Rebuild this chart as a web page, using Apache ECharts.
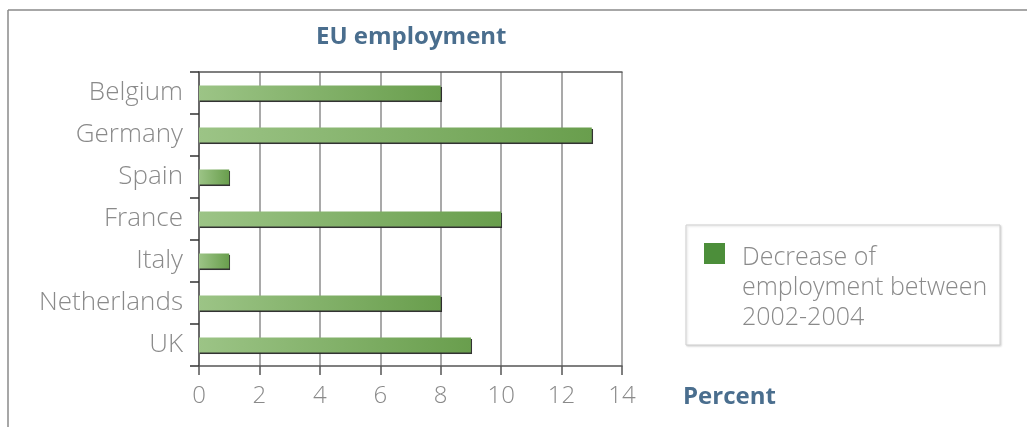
<!DOCTYPE html>
<html>
<head>
<meta charset="utf-8">
<style>
  html, body { margin: 0; padding: 0; background: #fff; }
  #chart { width: 1027px; height: 427px; }
</style>
<script src="https://cdn.jsdelivr.net/npm/echarts@6/dist/echarts.min.js"></script>
</head>
<body>
<div id="chart"></div>
<script>
// Employment decrease by country, 2002-2004 (percent)
const countries = ['Belgium', 'Germany', 'Spain', 'France', 'Italy', 'Netherlands', 'UK'];
const decrease = [8, 13, 1, 10, 1, 8, 9];
const xTicks = [0, 2, 4, 6, 8, 10, 12, 14];
const seriesName = 'Decrease of\nemployment between\n2002-2004';

const TITLE_BLUE = '#4a6e8e';
const LABEL_GREY = '#8a8a8a';
const LINE_DARK = '#555555';
const GRID_GREY = '#8c8c8c';
const FONT = '"Open Sans", Roboto, "DejaVu Sans", sans-serif';

const chart = echarts.init(document.getElementById('chart'), null, { renderer: 'canvas' });

chart.setOption({
  animation: false,
  backgroundColor: '#ffffff',
  title: {
    text: 'EU employment',
    left: 316,
    top: 25,
    padding: 0,
    textStyle: { color: TITLE_BLUE, fontFamily: FONT, fontWeight: 'bold', fontSize: 24 }
  },
  grid: { left: 199, right: 405, top: 72, bottom: 61, containLabel: false },
  legend: {
    left: 704,
    top: 179,
    padding: 0,
    itemWidth: 21,
    itemHeight: 21,
    itemGap: 0,
    icon: 'rect',
    selectedMode: false,
    data: [{ name: seriesName, itemStyle: { color: '#4c8e3a' } }],
    // two blank spacer rows above the text keep the swatch level with its first line
    formatter: name => '{s| }\n{s| }\n' + name.split('\n').map(l => '{t|' + l + '}').join('\n'),
    textStyle: {
      color: LABEL_GREY, fontFamily: FONT, fontWeight: 300, fontSize: 25,
      padding: [0, 0, 0, 12],
      rich: {
        s: { fontSize: 25, lineHeight: 34, fontFamily: FONT },
        t: { color: LABEL_GREY, fontSize: 25, lineHeight: 30, fontFamily: FONT, fontWeight: 300 }
      }
    }
  },
  xAxis: [{
    type: 'value',
    min: xTicks[0],
    max: xTicks[xTicks.length - 1],
    interval: 2,
    position: 'bottom',
    name: 'Percent',
    nameLocation: 'end',
    nameGap: 61,
    nameTextStyle: {
      color: TITLE_BLUE, fontFamily: FONT, fontWeight: 'bold', fontSize: 24,
      verticalAlign: 'top', align: 'left', padding: [19, 0, 0, 0]
    },
    axisLine: { show: true, lineStyle: { color: LINE_DARK, width: 1.5 } },
    axisTick: { show: true, length: 9, inside: false, lineStyle: { color: LINE_DARK, width: 1.5 } },
    axisLabel: {
      color: LABEL_GREY, fontFamily: FONT, fontWeight: 300, fontSize: 24, margin: 18,
      formatter: v => String(v)
    },
    splitLine: { show: true, lineStyle: { color: GRID_GREY, width: 1.5 } }
  }, {
    type: 'value',
    min: xTicks[0],
    max: xTicks[xTicks.length - 1],
    interval: 2,
    position: 'top',
    axisLine: { show: true, lineStyle: { color: LINE_DARK, width: 1.5 } },
    axisTick: { show: false },
    axisLabel: { show: false },
    splitLine: { show: false }
  }],
  yAxis: {
    type: 'category',
    data: countries,
    inverse: true,
    axisLine: { show: true, lineStyle: { color: LINE_DARK, width: 1.5 } },
    axisTick: { show: true, length: 9, alignWithLabel: false, lineStyle: { color: '#333', width: 1.5 } },
    axisLabel: {
      color: LABEL_GREY, fontFamily: FONT, fontWeight: 300, fontSize: 26, margin: 16
    },
    splitLine: { show: false }
  },
  series: [{
    name: seriesName,
    type: 'bar',
    xAxisIndex: 0,
    data: decrease,
    barWidth: 15,
    itemStyle: {
      color: new echarts.graphic.LinearGradient(0, 0, 1, 0, [
        { offset: 0, color: '#9cc486' },
        { offset: 1, color: '#699e4d' }
      ]),
      shadowColor: 'rgba(40,40,40,0.95)',
      shadowBlur: 0.5,
      shadowOffsetX: 1,
      shadowOffsetY: 1.5
    }
  }],
  graphic: [
    // outer frame (top and left edges)
    { type: 'line', shape: { x1: 8, y1: 10, x2: 1027, y2: 10 }, style: { stroke: '#8a8a8a', lineWidth: 1.5 }, silent: true },
    { type: 'line', shape: { x1: 8, y1: 10, x2: 8, y2: 427 }, style: { stroke: '#8a8a8a', lineWidth: 1.5 }, silent: true },
    // legend box
    {
      type: 'rect', z: -1,
      shape: { x: 686, y: 225, width: 314, height: 120 },
      style: { fill: '#fff', stroke: '#cfcfcf', lineWidth: 1, shadowColor: 'rgba(0,0,0,0.15)', shadowBlur: 2, shadowOffsetX: 1, shadowOffsetY: 1 },
      silent: true
    }
  ]
});
</script>
</body>
</html>
